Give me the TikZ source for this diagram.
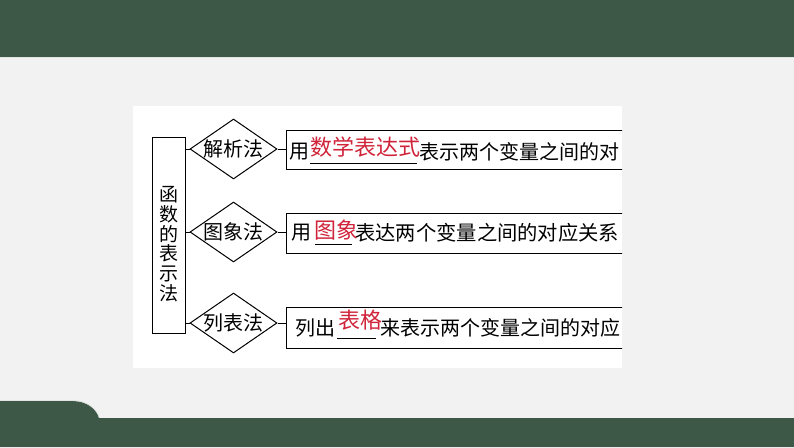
\documentclass[tikz,border=0pt]{standalone}
\usepackage{fontspec}
\setmainfont{Noto Sans CJK SC}
\usetikzlibrary{shapes.geometric}
\definecolor{bargreen}{HTML}{3D5846}
\definecolor{bggray}{HTML}{F2F2F2}
\definecolor{inkred}{HTML}{D0243A}
\tikzset{
  frame/.style={draw=black, line width=1pt},
  rootbox/.style={frame, minimum width=33pt, minimum height=196pt, inner sep=0pt},
  methodbox/.style={frame, shape=diamond, aspect=1.45, inner sep=0pt, minimum width=87pt, minimum height=60pt, font=\fontsize{20pt}{24pt}\selectfont},
  rowbox/.style={frame, anchor=west, minimum width=360pt, inner sep=0pt},
  blacktxt/.style={anchor=west, inner sep=0pt, font=\fontsize{20pt}{24pt}\selectfont},
  redtxt/.style={anchor=west, inner sep=0pt, text=inkred, font=\fontsize{22pt}{26pt}\selectfont},
  blank/.style={line width=1pt},
  link/.style={line width=1pt}
}
\begin{document}
\begin{tikzpicture}[x=1pt,y=-1pt]
\useasboundingbox (0,0) rectangle (794,447);
\fill[bggray] (0,0) rectangle (794,447);
% top bar
\fill[bargreen] (0,0) rectangle (794,57);
\draw[white!85!bargreen, line width=0.8pt] (0,57.6) -- (794,57.6);
% bottom bar with tab
\fill[bargreen] (0,401) -- (73,401) .. controls (88,401) and (97,410) .. (99,418) -- (794,418) -- (794,447) -- (0,447) -- cycle;
\draw[white!80!bargreen, line width=0.7pt] (0,400.6) -- (73,400.6) .. controls (88,400.6) and (97.4,410) .. (99.4,418);
% white panel
\fill[white] (133,106) rectangle (622,368);
\begin{scope}
\clip (133,106) rectangle (622,368);
% root box
\node[rootbox] (root) at (168.5,235) {};
\node[inner sep=0pt, align=center, font=\fontsize{19pt}{19.7pt}\selectfont] (roottxt) at (168.5,244) {函\\数\\的\\表\\示\\法};
% diamonds
\node[methodbox] (d1) at (233.5,149) {\makebox[0pt]{解析法}};
\node[methodbox] (d2) at (233.5,232) {\makebox[0pt]{图象法}};
\node[methodbox] (d3) at (233.5,323) {\makebox[0pt]{列表法}};
% row boxes
\node[rowbox, minimum height=39pt] (r1) at (286,149.5) {};
\node[rowbox, minimum height=40pt] (r2) at (286,233) {};
\node[rowbox, minimum height=41pt] (r3) at (286,327.5) {};
% connectors
\draw[link] (d1.west -| root.east) -- (d1.west);
\draw[link] (d2.west -| root.east) -- (d2.west);
\draw[link] (d3.west -| root.east) -- (d3.west);
\draw[link] (d1.east) -- (d1.east -| r1.west);
\draw[link] (d2.east) -- (d2.east -| r2.west);
\draw[link] (d3.east) -- (d3.east -| r3.west);
% row 1
\node[blacktxt] (t1a) at (289,152) {用};
\node[redtxt] (t1b) at (310,147) {数学表达式};
\node[blacktxt] (t1c) at (419,152) {表示两个变量之间的对};
\coordinate (u1a) at (310,163);
\coordinate (u1b) at (417,163);
\draw[blank] (u1a) -- (u1b);
% row 2
\node[blacktxt] (t2a) at (291,233) {用};
\node[redtxt] (t2b) at (314,230) {图象};
\node[blacktxt, font=\fontsize{20.3pt}{24pt}\selectfont] (t2c) at (355,233) {表达两个变量之间的对应关系};
\coordinate (u2a) at (315,244);
\coordinate (u2b) at (352,244);
\draw[blank] (u2a) -- (u2b);
% row 3
\node[blacktxt] (t3a) at (295,328) {列出};
\node[redtxt] (t3b) at (338,320) {表格};
\node[blacktxt] (t3c) at (380,328) {来表示两个变量之间的对应};
\coordinate (u3a) at (337,338);
\coordinate (u3b) at (376,338);
\draw[blank] (u3a) -- (u3b);
\end{scope}
\end{tikzpicture}
\end{document}
